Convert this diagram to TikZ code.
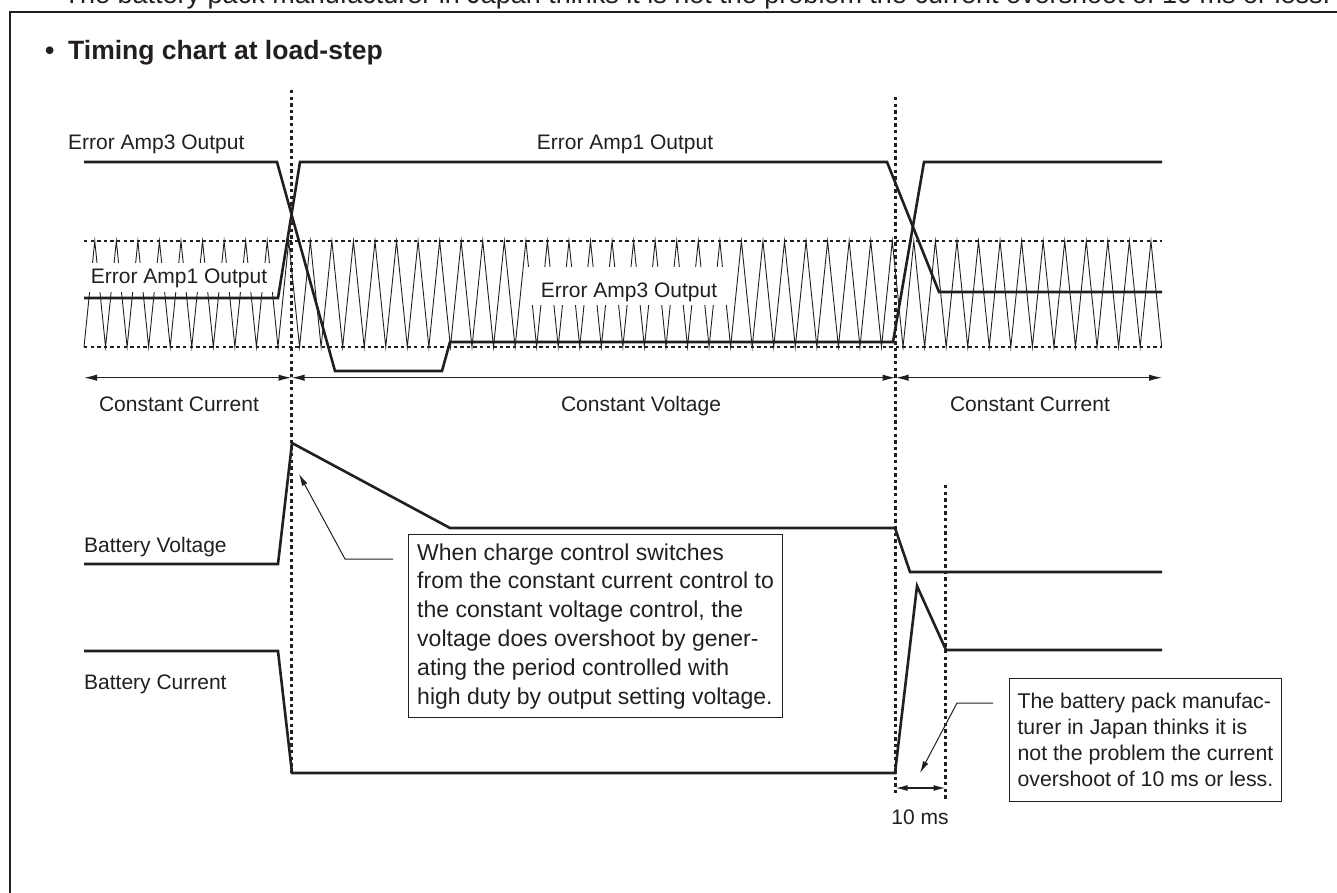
\documentclass[tikz,border=0pt]{standalone}
\usepackage{fontspec}
\setmainfont{Liberation Sans}
\usetikzlibrary{arrows.meta}
\definecolor{ink}{HTML}{231F20}
\begin{document}
\begin{tikzpicture}[x=1pt,y=-1pt,
  every node/.style={text=ink},
  sig/.style={draw=ink, line width=2.6pt},
  tri/.style={draw=ink, line width=0.9pt},
  dots/.style={draw=ink, line width=2.6pt, dash pattern=on 3.3pt off 3.3pt},
  span/.style={draw=ink, line width=1.3pt, {Latex[length=13pt,width=6.5pt]}-{Latex[length=13pt,width=6.5pt]}},
  lead/.style={draw=ink, line width=1pt, -{Latex[length=12pt,width=6pt]}},
  lbl/.style={font=\fontsize{21}{25}\selectfont, inner sep=0pt},
  wlbl/.style={lbl, fill=white, anchor=base},
  callbox/.style={draw=ink, line width=1.1pt, anchor=north west, align=left}
]
\useasboundingbox (0,0) rectangle (1337,892);
\clip (0,0) rectangle (1337,892);
\fill[white] (0,0) rectangle (1337,892);

% cut-off note at the very top and the frame
\node[anchor=base, inner sep=0pt, font=\fontsize{27}{32}\selectfont] (note) at (697,3) {The battery pack manufacturer in Japan thinks it is not the problem the current overshoot of 10 ms or less.};
\draw[ink, line width=2pt] (10,11.5) rectangle (1400,950);

% title
\node[anchor=base west, inner sep=0pt, font=\bfseries\fontsize{26.5}{32}\selectfont] (title) at (45,59) {•\kern 13.7pt Timing chart at load-step};

% triangle carrier
\draw[tri] (84,347) foreach \k in {0,...,49} { -- ({84+(\k+0.5)*21.554},241) -- ({84+(\k+1)*21.554},347) };
\node[wlbl, minimum width=190pt, text height=20pt, text depth=9pt] (ea1l) at (179,283) {Error Amp1 Output};
\node[wlbl, minimum width=210pt, text height=30pt, text depth=8pt] (ea3m) at (629,297) {Error Amp3 Output};
\draw[dots] (84,241) -- (1162,241);
\draw[dots] (84,347) -- (1162,347);

% top labels
\node[lbl, anchor=base west] (ea3t) at (68,149) {Error Amp3 Output};
\node[lbl, anchor=base] (ea1t) at (625,149) {Error Amp1 Output};

% vertical dotted lines
\coordinate (d1t) at (291.5,90);  \coordinate (d1b) at (291.5,776);
\coordinate (d2t) at (895.5,97);  \coordinate (d2b) at (895.5,795);
\coordinate (d3t) at (945.5,485); \coordinate (d3b) at (945.5,800);
\draw[dots] (d1t) -- (d1b);
\draw[dots] (d2t) -- (d2b);
\draw[dots] (d3t) -- (d3b);

% signals
\draw[sig] (84,162) -- (277,162) -- (335,371) -- (442,371) -- (450,342) -- (893,342) -- (924,162) -- (1162,162);
\draw[sig] (84,298) -- (278,298) -- (300,162) -- (887,162) -- (939,292) -- (1162,292);
\draw[sig] (84,564) -- (278,564) -- (292,443) -- (450,528) -- (895,528) -- (910,572) -- (1162,572);
\draw[sig] (84,651) -- (278,651) -- (292,773) -- (895,773) -- (917,586) -- (946,650) -- (1162,650);

% mode spans
\coordinate (s0) at (84,377.7);
\coordinate (s1) at (291.5,377.7);
\coordinate (s2) at (895.5,377.7);
\coordinate (s3) at (1162,377.7);
\draw[span] (s0) -- (s1);
\draw[span] (s1) -- (s2);
\draw[span] (s2) -- (s3);
\node[lbl, anchor=base] (cc1) at (179,411) {Constant Current};
\node[lbl, anchor=base] (cv) at (641,411) {Constant Voltage};
\node[lbl, anchor=base] (cc2) at (1030,411) {Constant Current};

% signal names
\node[lbl, anchor=base west] (bv) at (84,552) {Battery Voltage};
\node[lbl, anchor=base west] (bc) at (84,689) {Battery Current};

% callout 1
\node[callbox, minimum width=374pt, minimum height=183pt, inner xsep=8pt, font=\fontsize{23}{28.8}\selectfont] (c1) at (408,534)
  {When charge control switches\\from the constant current control to\\the constant voltage control, the\\voltage does overshoot by gener-\\ating the period controlled with\\high duty by output setting voltage.};
\coordinate (l1a) at (393,559);
\coordinate (l1b) at (345,559);
\coordinate (l1c) at (299,474);
\draw[lead] (l1a) -- (l1b) -- (l1c);

% callout 2
\node[callbox, minimum width=270pt, minimum height=123pt, inner xsep=8pt, font=\fontsize{21.3}{26}\selectfont] (c2) at (1009,678)
  {The battery pack manufac-\\turer in Japan thinks it is\\not the problem the current\\overshoot of 10 ms or less.};
\coordinate (l2a) at (993,703);
\coordinate (l2b) at (957,703);
\coordinate (l2c) at (920,773);
\draw[lead] (l2a) -- (l2b) -- (l2c);

% 10 ms dimension
\coordinate (m0) at (895.5,788);
\coordinate (m1) at (945.5,788);
\draw[draw=ink, line width=1.3pt, {Latex[length=12pt,width=6pt]}-{Latex[length=12pt,width=6pt]}] (m0) -- (m1);
\node[lbl, anchor=base] (tenms) at (920,824) {10 ms};
\end{tikzpicture}
\end{document}
